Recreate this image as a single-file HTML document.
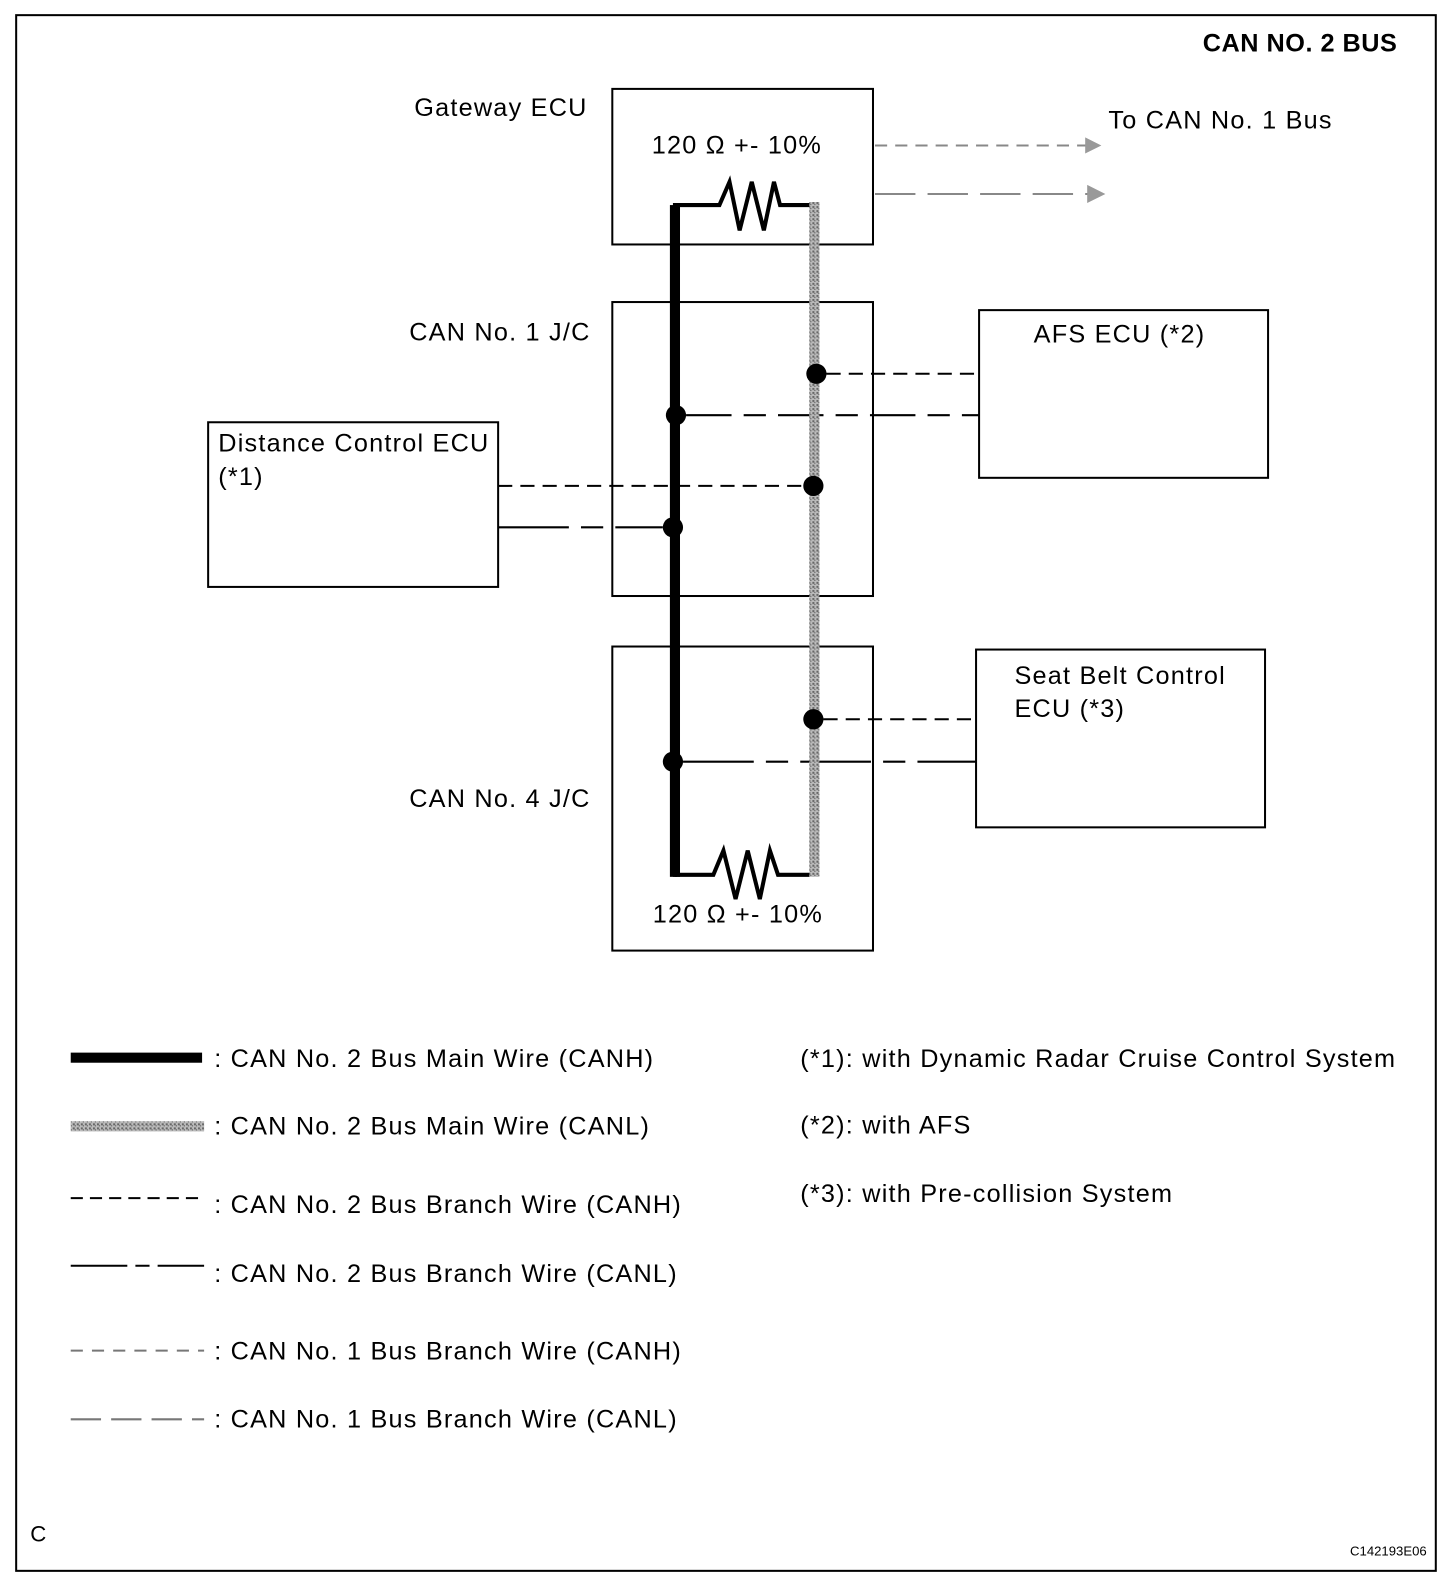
<!DOCTYPE html>
<html><head><meta charset="utf-8"><style>
html,body{margin:0;padding:0;background:#fff;}
svg{display:block;}
text{font-family:"Liberation Sans",Arial,sans-serif;font-size:25px;letter-spacing:1.2px;fill:#000;}
</style></head><body>
<svg width="1456" height="1586" viewBox="0 0 1441 1570" preserveAspectRatio="none" xmlns="http://www.w3.org/2000/svg">
<defs>
<pattern id="g" width="4" height="4" patternUnits="userSpaceOnUse">
<rect width="4" height="4" fill="#bbb"/><rect width="2" height="2" fill="#666"/><rect x="2" y="2" width="1" height="1" fill="#444"/>
</pattern>
</defs>
<rect x="16" y="15" width="1405" height="1540" fill="none" stroke="#000" stroke-width="2"/>
<text x="1383" y="51" text-anchor="end" style="font-weight:bold;letter-spacing:0.5px">CAN NO. 2 BUS</text>

<g fill="none" stroke="#000" stroke-width="2">
<rect x="606" y="88" width="258" height="154"/>
<rect x="606" y="299" width="258" height="291"/>
<rect x="606" y="640" width="258" height="301"/>
<rect x="206" y="418" width="287" height="163"/>
<rect x="969" y="307" width="286" height="166"/>
<rect x="966" y="643" width="286" height="176"/>
</g>

<text x="410" y="115">Gateway ECU</text>
<text x="645" y="152">120 Ω +- 10%</text>
<text x="1097" y="127">To CAN No. 1 Bus</text>
<text x="405" y="337">CAN No. 1 J/C</text>
<text x="405" y="799">CAN No. 4 J/C</text>
<text x="216" y="447">Distance Control ECU</text>
<text x="216" y="480">(*1)</text>
<text x="1023" y="339">AFS ECU (*2)</text>
<text x="1004" y="677">Seat Belt Control</text>
<text x="1004" y="710">ECU (*3)</text>
<text x="646" y="913">120 Ω +- 10%</text>

<g stroke="#888" stroke-width="2" fill="none">
<line x1="866" y1="144" x2="1078" y2="144" stroke-dasharray="12,8"/>
<line x1="866" y1="192" x2="1080" y2="192" stroke-dasharray="40,12"/>
</g>
<polygon points="1074,136 1090,144 1074,152" fill="#999"/>
<polygon points="1076,183 1094,192 1076,201" fill="#999"/>

<g stroke="#000" stroke-width="2" fill="none">
<line x1="818" y1="370" x2="969" y2="370" stroke-dasharray="14,8"/>
<line x1="679" y1="411" x2="969" y2="411" stroke-dasharray="45,12,22,12"/>
<line x1="493" y1="481" x2="795" y2="481" stroke-dasharray="14,8"/>
<line x1="493" y1="522" x2="656" y2="522" stroke-dasharray="70,12,22,12"/>
<line x1="815" y1="712" x2="966" y2="712" stroke-dasharray="14,8"/>
<line x1="676" y1="754" x2="966" y2="754" stroke-dasharray="70,12,22,12"/>
</g>

<rect x="801" y="200" width="10" height="668" fill="url(#g)"/>
<path d="M668,868 V203 H712 L722,180 L732,228 L744,180 L756,228 L766,180 L772,203 H801" fill="none" stroke="#000" stroke-width="4"/>
<rect x="663" y="203" width="10" height="665" fill="#000"/>
<path d="M668,866 H706 L716,842 L728,890 L740,842 L752,890 L762,842 L770,866 H801" fill="none" stroke="#000" stroke-width="4"/>

<g fill="#000">
<circle cx="808" cy="370" r="10"/>
<circle cx="669" cy="411" r="10"/>
<circle cx="805" cy="481" r="10"/>
<circle cx="666" cy="522" r="10"/>
<circle cx="805" cy="712" r="10"/>
<circle cx="666" cy="754" r="10"/>
</g>

<rect x="70" y="1042" width="130" height="10" fill="#000"/>
<rect x="70" y="1110" width="132" height="10" fill="url(#g)"/>
<g stroke-width="2" fill="none">
<line x1="70" y1="1186" x2="200" y2="1186" stroke="#000" stroke-dasharray="12,7"/>
<line x1="70" y1="1253" x2="202" y2="1253" stroke="#000" stroke-dasharray="56,8,14,8"/>
<line x1="70" y1="1337" x2="202" y2="1337" stroke="#777" stroke-dasharray="12,9"/>
<line x1="70" y1="1405" x2="202" y2="1405" stroke="#777" stroke-dasharray="30,10"/>
</g>
<text x="212" y="1056">: CAN No. 2 Bus Main Wire (CANH)</text>
<text x="212" y="1123">: CAN No. 2 Bus Main Wire (CANL)</text>
<text x="212" y="1201">: CAN No. 2 Bus Branch Wire (CANH)</text>
<text x="212" y="1269">: CAN No. 2 Bus Branch Wire (CANL)</text>
<text x="212" y="1346">: CAN No. 1 Bus Branch Wire (CANH)</text>
<text x="212" y="1413">: CAN No. 1 Bus Branch Wire (CANL)</text>
<text x="792" y="1056">(*1): with Dynamic Radar Cruise Control System</text>
<text x="792" y="1122">(*2): with AFS</text>
<text x="792" y="1190">(*3): with Pre-collision System</text>
<text x="30" y="1526" style="font-size:22px;letter-spacing:0">C</text>
<text x="1412" y="1540" text-anchor="end" style="font-size:13px;letter-spacing:0">C142193E06</text>
</svg>
</body></html>
